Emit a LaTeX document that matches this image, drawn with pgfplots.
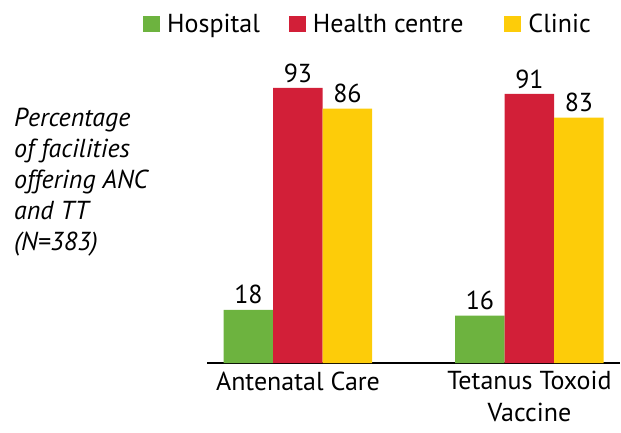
\documentclass[border=0pt]{standalone}
\usepackage{fontspec}
\setmainfont{PT Sans}
\usepackage{pgfplots}
\pgfplotsset{compat=1.18}
\definecolor{cgreen}{RGB}{109,179,63}
\definecolor{cred}{RGB}{210,31,56}
\definecolor{cyellow}{RGB}{253,204,9}
\begin{document}
\begin{tikzpicture}[x=1pt,y=1pt]
\useasboundingbox (0,0) rectangle (621,432);
\begin{axis}[
  at={(207pt,69pt)}, anchor=south west,
  scale only axis, width=413pt, height=295.7pt,
  xmin=-0.393, xmax=1.391, ymin=0, ymax=100,
  ybar=0pt, bar width=49.5pt,
  axis x line*=bottom, axis y line=none,
  axis line style={line width=1.6pt, black},
  xtick={0,1}, xticklabels={Antenatal Care,{Tetanus Toxoid\\Vaccine}},
  xticklabel style={align=center, font=\fontsize{26}{32}\selectfont, yshift=-5pt},
  major tick length=0pt,
  nodes near coords,
  nodes near coords style={font=\fontsize{26}{30}\selectfont, /pgf/number format/assume math mode=true, yshift=2pt},
  legend columns=-1,
  legend style={at={(-0.155,1.146)}, anchor=west, draw=none, fill=none, inner sep=0pt,
    font=\fontsize{26}{30}\selectfont,
    /tikz/every even column/.append style={column sep=27pt}},
  legend image code/.code={\fill[#1] (0pt,-8pt) rectangle (17pt,8pt);},
]
\addplot[fill=cgreen, draw=none] coordinates {(0,18) (1,16)};
\addplot[fill=cred, draw=none] coordinates {(0,93) (1,91)};
\addplot[fill=cyellow, draw=none] coordinates {(0,86) (1,83)};
\legend{\hspace*{5pt}Hospital, \hspace*{5pt}Health centre\hspace*{12pt}, \hspace*{5pt}Clinic}
\end{axis}
\node[anchor=north west, align=left, inner sep=0pt, font=\itshape\fontsize{26}{31}\selectfont] at (14,324) {Percentage\\of facilities\\offering ANC\\and TT\\(N=383)};
\end{tikzpicture}
\end{document}
